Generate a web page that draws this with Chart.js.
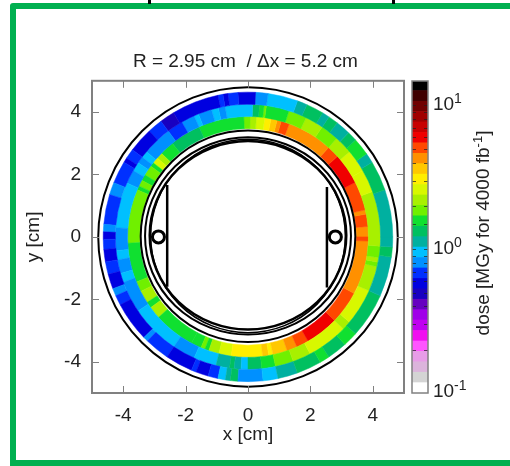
<!DOCTYPE html>
<html>
<head>
<meta charset="utf-8">
<script src="https://cdn.jsdelivr.net/npm/chart.js@4"></script>
<style>
  html, body { margin: 0; padding: 0; background: #fff; overflow: hidden; }
  #page { position: relative; width: 510px; height: 466px; overflow: hidden; }
  #frame { position: absolute; left: 10px; top: 3px; width: 520px; height: 451px;
           border: 6px solid #00b050; border-top-left-radius: 3px; }
  .cut { position: absolute; top: 0; width: 3px; height: 4px; background: #000; }
  canvas { position: absolute; top: 0; }
</style>
</head>
<body>
<div id="page">
  <div id="frame"></div>
  <div class="cut" style="left:148px"></div>
  <div class="cut" style="left:392px"></div>
  <canvas id="doseMap" width="510" height="466" style="left:0"></canvas>
  <canvas id="colorBar" width="106" height="466" style="left:404px"></canvas>
</div>
<script>
// Tick labels
const xTickValues = [-4, -2, 0, 2, 4];
const yTickValues = [-4, -2, 0, 2, 4];
const barMajorTicks = [0.1, 1, 10];
const barExponents = ['-1', '0', '1'];

// Colour bar: 30 dose levels (edges on the log axis) and their colours
const levelEdges = [0.1, 0.118, 0.1395, 0.165, 0.195, 0.23, 0.272, 0.322, 0.38, 0.449, 0.531, 0.627, 0.741, 0.876, 1.035,
  1.223, 1.445, 1.708, 2.02, 2.385, 2.82, 3.33, 3.94, 4.65, 5.5, 6.5, 7.68, 9.08, 10.7, 12.7, 14.8];
const levelColors = ['#ffffff', '#d4d4d4', '#dcb4dc', '#e89ce8', '#ff55ff', '#f010f0', '#c000f0', '#a000e8', '#6600c0', '#1800c0',
  '#0000e0', '#0030ff', '#0090ff', '#00c0ff', '#00b0a0', '#00c060', '#10e030', '#70f000', '#a8f000', '#d8f800',
  '#ffee00', '#ffc800', '#ff9000', '#ff4800', '#f00000', '#c80000', '#a00000', '#700000', '#400000', '#000000'];

// Ring radii in cm, inner to outer
const ringRadii = [3.47, 3.86, 4.25, 4.64];

// Inner ring: start angle of each cell (deg, counter clockwise from +x) and dose
const innerAngles = [0, 5, 11, 13, 27, 42, 48, 70, 74, 76, 79, 82, 86, 89, 92, 114, 129, 136, 139, 142, 144, 149, 152, 155, 157,
  183, 202, 207, 213, 216, 222, 242, 247, 249, 251, 256, 262, 277, 280, 282, 289, 294, 300, 316, 332, 358];
const innerDose = [4.3, 5.07, 4.3, 5.07, 6.0, 5.07, 4.3, 5.07, 4.3, 3.63, 3.07, 2.6, 2.2, 1.86, 1.57, 1.33, 1.57, 2.2, 2.6, 1.57, 1.86, 1.57, 1.86, 1.57, 1.86,
  1.57, 1.86, 2.2, 1.57, 2.2, 1.57, 1.57, 1.86, 1.57, 2.2, 2.6, 3.07, 3.63, 3.07, 3.63, 4.3, 5.07, 6.0, 5.07, 4.3, 5.07];

// Middle ring
const middleAngles = [0, 20, 30, 40, 48, 56, 64, 72, 82, 83, 85, 88, 100, 103, 106, 112, 114, 120, 127, 140, 143, 146, 150, 156, 176,
  186, 190, 196, 200, 214, 236, 246, 256, 262, 264, 267, 270, 276, 282, 290, 298, 316, 320, 336, 347, 349, 351, 356];
const middleDose = [2.2, 2.6, 2.6, 2.2, 1.86, 2.2, 1.86, 1.57, 1.86, 1.57, 1.33, 0.95, 0.81, 0.95, 0.81, 0.95, 0.81, 0.68, 0.81, 0.95, 0.81, 0.95, 0.81, 0.95, 0.81,
  0.95, 0.81, 0.95, 0.81, 0.95, 0.81, 0.95, 1.13, 1.33, 1.13, 0.95, 1.33, 1.57, 1.86, 2.2, 2.6, 2.2, 2.6, 2.2, 1.86, 2.2, 1.86, 2.2];

// Outer ring
const outerAngles = [0, 19, 31, 35, 42, 46, 52, 56, 59, 66, 70, 82, 87, 94, 98, 100, 102, 121, 127, 133, 143, 147, 149, 158, 163, 175, 178,
  181, 185, 190, 195, 201, 204, 208, 224, 226, 236, 247, 249, 254, 258, 261, 263, 266, 276, 282, 290, 300, 304, 312, 318, 336, 352, 356];
const outerDose = [1.13, 1.33, 1.13, 1.57, 1.33, 1.13, 1.33, 1.13, 1.33, 1.13, 0.95, 0.81, 0.58, 0.68, 0.58, 0.68, 0.58, 0.49, 0.68, 0.58, 0.68, 0.58, 0.68, 0.81, 0.68, 0.81, 0.58,
  0.68, 0.58, 0.68, 0.58, 0.81, 0.68, 0.58, 0.81, 0.68, 0.58, 0.68, 0.58, 0.68, 0.95, 1.13, 1.33, 0.81, 0.95, 1.13, 1.33, 1.57, 1.33, 1.57, 1.33, 1.13, 1.33, 1.13];

// Detector outlines: [x radius, y radius, y centre, line width] in cm
const outlineEllipses = [[4.8, 4.8, 0, 2], [3.44, 3.39, 0.02, 2], [3.3, 3.16, 0.03, 2], [3.15, 3.02, 0.05, 2.5], [3.12, 3.1, 0.03, 1.5]];

// Vertical chamber walls and the two beam markers
const leftWallX = [-2.59, -2.59];
const leftWallY = [1.66, -1.6];
const rightWallX = [2.53, 2.53];
const rightWallY = [1.6, -1.62];
const beamX = [-2.87, 2.8];
const beamY = [0, 0];

const FONT = '"Liberation Sans", Arial, sans-serif';
const TEXT = '#222222';
const FRAME = '#808080';

function doseColor(dose) {
  for (let i = 0; i < levelColors.length; i++) {
    if (dose < levelEdges[i + 1]) return levelColors[i];
  }
  return levelColors[levelColors.length - 1];
}

function zip(xs, ys) {
  return xs.map((x, i) => ({ x: x, y: ys[i] }));
}

const rings = [
  { angles: innerAngles, dose: innerDose },
  { angles: middleAngles, dose: middleDose },
  { angles: outerAngles, dose: outerDose }
];

// cells and outlines go under the datasets
const ringPlugin = {
  id: 'rings',
  beforeDatasetsDraw(chart) {
    const { ctx, scales: { x, y } } = chart;
    const cx = x.getPixelForValue(0);
    const cy = y.getPixelForValue(0);
    const px = v => Math.abs(x.getPixelForValue(v) - cx);
    const rad = d => -d * Math.PI / 180;
    ctx.save();
    rings.forEach((ring, k) => {
      const r0 = px(ringRadii[k]);
      const r1 = px(ringRadii[k + 1]);
      ring.angles.forEach((a, i) => {
        const end = i + 1 < ring.angles.length ? ring.angles[i + 1] : 360;
        ctx.beginPath();
        ctx.arc(cx, cy, r1, rad(a), rad(end), true);
        ctx.arc(cx, cy, r0, rad(end), rad(a), false);
        ctx.closePath();
        ctx.fillStyle = doseColor(ring.dose[i]);
        ctx.strokeStyle = ctx.fillStyle;
        ctx.lineWidth = 0.5;
        ctx.fill();
        ctx.stroke();
      });
    });
    ctx.strokeStyle = '#000';
    outlineEllipses.forEach(e => {
      ctx.beginPath();
      ctx.ellipse(cx, y.getPixelForValue(e[2]), px(e[0]), px(e[1]), 0, 0, Math.PI * 2);
      ctx.lineWidth = e[3];
      ctx.stroke();
    });
    ctx.restore();
  }
};

// gnuplot style box with inward ticks on all four sides
const boxPlugin = {
  id: 'box',
  afterDatasetsDraw(chart) {
    const { ctx, chartArea: a, scales: { x, y } } = chart;
    ctx.save();
    ctx.strokeStyle = FRAME;
    ctx.lineWidth = 1;
    ctx.beginPath();
    xTickValues.forEach(v => {
      const p = Math.round(x.getPixelForValue(v)) + 0.5;
      ctx.moveTo(p, a.top); ctx.lineTo(p, a.top + 7);
      ctx.moveTo(p, a.bottom); ctx.lineTo(p, a.bottom - 7);
    });
    yTickValues.forEach(v => {
      const p = Math.round(y.getPixelForValue(v)) + 0.5;
      ctx.moveTo(a.left, p); ctx.lineTo(a.left + 7, p);
      ctx.moveTo(a.right, p); ctx.lineTo(a.right - 7, p);
    });
    ctx.stroke();
    ctx.lineWidth = 2;
    ctx.strokeRect(a.left, a.top, a.right - a.left, a.bottom - a.top);
    ctx.restore();
  }
};

const wallStyle = { showLine: true, pointRadius: 0, borderColor: '#000', borderWidth: 2.5 };

new Chart(document.getElementById('doseMap').getContext('2d'), {
  type: 'scatter',
  data: {
    datasets: [
      Object.assign({ data: zip(leftWallX, leftWallY) }, wallStyle),
      Object.assign({ data: zip(rightWallX, rightWallY) }, wallStyle),
      { data: zip(beamX, beamY), pointRadius: 6, borderWidth: 3, pointBorderColor: '#000', pointBackgroundColor: '#fff' }
    ]
  },
  options: {
    responsive: false,
    animation: false,
    events: [],
    layout: { padding: { top: 50, right: 106, left: 0, bottom: 20 } },
    plugins: {
      legend: { display: false },
      tooltip: { enabled: false },
      title: {
        display: true,
        fullSize: false,
        text: 'R = 2.95 cm  / \u0394x = 5.2 cm ',
        color: TEXT,
        font: { family: FONT, size: 19, weight: 'normal' },
        padding: { top: 0, bottom: 8 }
      }
    },
    scales: {
      x: {
        type: 'linear', min: -5, max: 5,
        afterBuildTicks(s) { s.ticks = xTickValues.map(v => ({ value: v })); },
        afterFit(s) { s.height = 53; },
        grid: { display: false },
        border: { display: false },
        ticks: { color: TEXT, font: { family: FONT, size: 19 }, maxRotation: 0, padding: 3, callback: v => String(v) },
        title: { display: true, text: 'x [cm]', color: TEXT, font: { family: FONT, size: 19 }, padding: { top: 0, bottom: 0 } }
      },
      y: {
        type: 'linear', min: -5, max: 5,
        afterBuildTicks(s) { s.ticks = yTickValues.map(v => ({ value: v })); },
        afterFit(s) { s.width = 92; },
        grid: { display: false },
        border: { display: false },
        ticks: { color: TEXT, font: { family: FONT, size: 19 }, padding: 3, callback: v => String(v) },
        title: { display: true, text: 'y [cm]', color: TEXT, font: { family: FONT, size: 19 }, padding: { top: 22, bottom: 0 } }
      }
    }
  },
  plugins: [ringPlugin, boxPlugin]
});

// marks on both edges of the colour bar, then the labels with real superscripts
const barMarks = {
  id: 'barMarks',
  afterDatasetsDraw(chart) {
    const { ctx, chartArea: a, scales: { y } } = chart;
    ctx.save();
    ctx.strokeStyle = 'rgba(30,30,30,0.7)';
    ctx.lineWidth = 1;
    ctx.beginPath();
    y.ticks.forEach(t => {
      if (t.value <= 0.1 || t.value > 10) return;
      const p = Math.round(y.getPixelForValue(t.value)) + 0.5;
      ctx.moveTo(a.left, p); ctx.lineTo(a.left + 4, p);
      ctx.moveTo(a.right, p); ctx.lineTo(a.right - 4, p);
    });
    ctx.stroke();
    ctx.strokeStyle = FRAME;
    ctx.lineWidth = 1.5;
    ctx.strokeRect(a.left, a.top, a.right - a.left, a.bottom - a.top);

    ctx.fillStyle = TEXT;
    ctx.textBaseline = 'alphabetic';
    ctx.textAlign = 'left';
    barMajorTicks.forEach((v, i) => {
      const p = y.getPixelForValue(v);
      const base = Math.min(p + 5, 397);
      ctx.font = '19px ' + FONT;
      ctx.fillText('10', a.right + 5, base);
      ctx.font = '14px ' + FONT;
      ctx.fillText(barExponents[i], a.right + 26, base - 7);
    });

    const parts = ['dose [MGy for 4000 fb', '-1', ']'];
    ctx.font = '19px ' + FONT;
    const w0 = ctx.measureText(parts[0]).width;
    const w2 = ctx.measureText(parts[2]).width;
    ctx.font = '13px ' + FONT;
    const w1 = ctx.measureText(parts[1]).width;
    ctx.translate(a.right + 61, (a.top + a.bottom) / 2 - 4);
    ctx.rotate(-Math.PI / 2);
    const start = -(w0 + w1 + w2) / 2;
    ctx.font = '19px ' + FONT;
    ctx.fillText(parts[0], start, 0);
    ctx.fillText(parts[2], start + w0 + w1, 0);
    ctx.font = '13px ' + FONT;
    ctx.fillText(parts[1], start + w0, -7);
    ctx.restore();
  }
};

new Chart(document.getElementById('colorBar').getContext('2d'), {
  type: 'bar',
  data: {
    labels: ['dose'],
    datasets: levelColors.map((c, i) => ({
      data: [[levelEdges[i], levelEdges[i + 1]]],
      backgroundColor: c,
      barPercentage: 1,
      categoryPercentage: 1,
      grouped: false
    }))
  },
  options: {
    responsive: false,
    animation: false,
    events: [],
    layout: { padding: { left: 8, top: 81, bottom: 73, right: 0 } },
    plugins: { legend: { display: false }, tooltip: { enabled: false } },
    scales: {
      x: { display: false },
      y: {
        type: 'logarithmic', position: 'right', min: 0.1, max: 14.8,
        afterFit(s) { s.width = 82; },
        grid: { display: false },
        border: { display: false },
        ticks: { autoSkip: false, callback: () => '' }
      }
    }
  },
  plugins: [barMarks]
});
</script>
</body>
</html>
